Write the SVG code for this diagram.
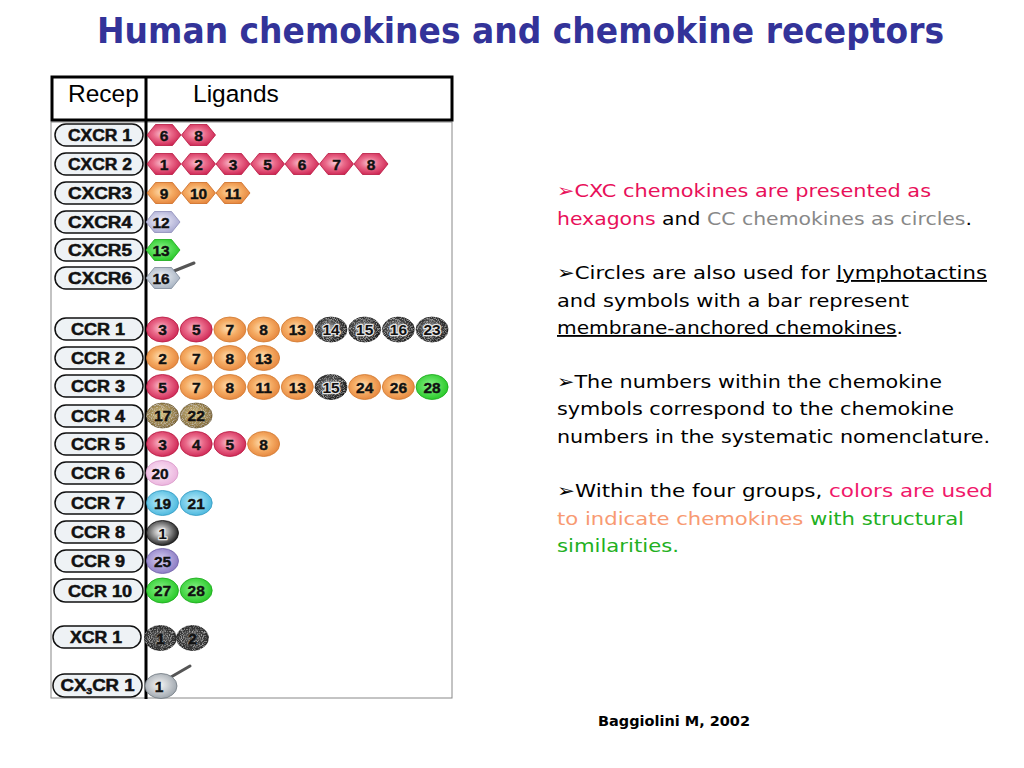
<svg xmlns="http://www.w3.org/2000/svg" xmlns:xlink="http://www.w3.org/1999/xlink" width="1024" height="768" viewBox="0 0 1024 768">
<defs>
<style>
.pill{fill:#eef2f5;stroke:#111;stroke-width:1.5}
.pl{font-family:"Liberation Sans",Arial,sans-serif;font-weight:bold;font-size:16px;text-anchor:middle;fill:#111;stroke:#111;stroke-width:0.5px}
.n{font-family:"Liberation Sans",Arial,sans-serif;font-weight:bold;font-size:15.5px;text-anchor:middle;fill:#111;stroke:#111;stroke-width:0.4px}
.nd{stroke:#e4e4e4;stroke-width:2.5px;paint-order:stroke;stroke-linejoin:round}
.hr{fill:url(#gRed);stroke:#b8163f;stroke-width:0.8}
.ho{fill:url(#gOr);stroke:#cc6a20;stroke-width:0.8}
.hl{fill:url(#gLav);stroke:#8c8cb8;stroke-width:0.8}
.hg{fill:url(#gGr);stroke:#18a818;stroke-width:0.8}
.hb{fill:url(#gBl);stroke:#7c8898;stroke-width:0.8}
.cr{fill:url(#gRed);stroke:#b8163f;stroke-width:0.8}
.co{fill:url(#gOr);stroke:#d07a30;stroke-width:0.8}
.cd{fill:url(#gDk);stroke:#222;stroke-width:0.8}
.cg{fill:url(#gGr);stroke:#18a818;stroke-width:0.8}
.ct{fill:url(#gTan);stroke:#6e5c30;stroke-width:0.8}
.cp{fill:url(#gPk);stroke:#d898c8;stroke-width:0.8}
.cc{fill:url(#gCy);stroke:#3098c0;stroke-width:0.8}
.cu{fill:url(#gPu);stroke:#6e60a8;stroke-width:0.8}
.cw{fill:url(#gWd);stroke:#111;stroke-width:0.8}
.cx{fill:url(#gDx);stroke:#222;stroke-width:0.8}
.cl{fill:url(#gLg);stroke:#707880;stroke-width:0.8}
.bar{stroke:#555;stroke-width:3;stroke-linecap:round}
.body{font-family:"DejaVu Sans","Liberation Sans",sans-serif;font-size:18.5px;fill:#000}
</style>
<path id="hex" d="M-17,0 L-8.5,-10.5 L8.5,-10.5 L17,0 L8.5,10.5 L-8.5,10.5 Z"/>
<ellipse id="cir" cx="0" cy="0" rx="16" ry="12.5"/>
<radialGradient id="gRed" cx="0.45" cy="0.45" r="0.6"><stop offset="0" stop-color="#f9c6d4"/><stop offset="0.45" stop-color="#ea6a8a"/><stop offset="1" stop-color="#cc2150"/></radialGradient>
<radialGradient id="gOr" cx="0.45" cy="0.45" r="0.6"><stop offset="0" stop-color="#fde2b8"/><stop offset="0.5" stop-color="#f5ac64"/><stop offset="1" stop-color="#e4823a"/></radialGradient>
<radialGradient id="gLav" cx="0.45" cy="0.45" r="0.6"><stop offset="0" stop-color="#f4f4fc"/><stop offset="1" stop-color="#a6a6d0"/></radialGradient>
<radialGradient id="gGr" cx="0.45" cy="0.45" r="0.6"><stop offset="0" stop-color="#8cf48c"/><stop offset="1" stop-color="#22c622"/></radialGradient>
<radialGradient id="gBl" cx="0.45" cy="0.45" r="0.6"><stop offset="0" stop-color="#f2f5f8"/><stop offset="1" stop-color="#a4b0c0"/></radialGradient>
<radialGradient id="gDk" cx="0.45" cy="0.45" r="0.6"><stop offset="0" stop-color="#a8a8a8"/><stop offset="0.5" stop-color="#4a4a4a"/><stop offset="1" stop-color="#141414"/></radialGradient>
<radialGradient id="gTan" cx="0.45" cy="0.45" r="0.6"><stop offset="0" stop-color="#d4c080"/><stop offset="1" stop-color="#7c6434"/></radialGradient>
<radialGradient id="gPk" cx="0.45" cy="0.45" r="0.6"><stop offset="0" stop-color="#fcecf8"/><stop offset="1" stop-color="#eab0dc"/></radialGradient>
<radialGradient id="gCy" cx="0.45" cy="0.45" r="0.6"><stop offset="0" stop-color="#c0f0fc"/><stop offset="1" stop-color="#44b4dc"/></radialGradient>
<radialGradient id="gPu" cx="0.45" cy="0.45" r="0.6"><stop offset="0" stop-color="#d8d0f4"/><stop offset="1" stop-color="#8676c0"/></radialGradient>
<radialGradient id="gWd" cx="0.45" cy="0.45" r="0.6"><stop offset="0" stop-color="#ffffff"/><stop offset="0.35" stop-color="#b0b0b0"/><stop offset="1" stop-color="#101010"/></radialGradient>
<radialGradient id="gDx" cx="0.5" cy="0.5" r="0.6"><stop offset="0" stop-color="#5a5a5a"/><stop offset="1" stop-color="#222222"/></radialGradient>
<radialGradient id="gLg" cx="0.45" cy="0.45" r="0.6"><stop offset="0" stop-color="#f6f6f6"/><stop offset="1" stop-color="#9aa2aa"/></radialGradient>
<filter id="speck" x="-0.1" y="-0.1" width="1.2" height="1.2">
<feTurbulence type="fractalNoise" baseFrequency="1.1" numOctaves="1" seed="4" result="nz"/>
<feColorMatrix in="nz" type="matrix" values="0 0 0 0 1  0 0 0 0 1  0 0 0 0 1  1.3 0 0 0 -0.62" result="w"/>
<feComposite in="w" in2="SourceGraphic" operator="in" result="ws"/>
<feMerge><feMergeNode in="SourceGraphic"/><feMergeNode in="ws"/></feMerge>
</filter>
</defs>
<rect width="1024" height="768" fill="#fff"/>

<g id="title">
<text x="97" y="43" textLength="847" lengthAdjust="spacingAndGlyphs" font-family="'DejaVu Sans','Liberation Sans',sans-serif" font-weight="bold" font-size="36" fill="#333399">Human chemokines and chemokine receptors</text>
</g>

<g id="table">
<rect x="51" y="122" width="401" height="576" fill="none" stroke="#888" stroke-width="1"/>
<rect x="52" y="77" width="400" height="43" fill="none" stroke="#000" stroke-width="3"/>
<line x1="146" y1="77" x2="146" y2="699" stroke="#000" stroke-width="3"/>
<text x="68" y="102" font-family="'Liberation Sans',Arial,sans-serif" font-size="24.5" fill="#000">Recep</text>
<text x="193" y="102" font-family="'Liberation Sans',Arial,sans-serif" font-size="24.5" fill="#000">Ligands</text>
</g>

<g id="receptors">
<g id="r-cxcr1"><rect class="pill" x="55" y="124" width="88" height="22" rx="11"/><text class="pl" x="100" y="141" textLength="64" lengthAdjust="spacingAndGlyphs">CXCR 1</text></g>
<g id="r-cxcr2"><rect class="pill" x="55" y="153" width="88" height="22" rx="11"/><text class="pl" x="100" y="170" textLength="64" lengthAdjust="spacingAndGlyphs">CXCR 2</text></g>
<g id="r-cxcr3"><rect class="pill" x="55" y="182" width="88" height="22" rx="11"/><text class="pl" x="100" y="199" textLength="64" lengthAdjust="spacingAndGlyphs">CXCR3</text></g>
<g id="r-cxcr4"><rect class="pill" x="55" y="211" width="88" height="22" rx="11"/><text class="pl" x="100" y="228" textLength="64" lengthAdjust="spacingAndGlyphs">CXCR4</text></g>
<g id="r-cxcr5"><rect class="pill" x="55" y="239" width="88" height="22" rx="11"/><text class="pl" x="100" y="256" textLength="64" lengthAdjust="spacingAndGlyphs">CXCR5</text></g>
<g id="r-cxcr6"><rect class="pill" x="55" y="267" width="88" height="22" rx="11"/><text class="pl" x="100" y="284" textLength="64" lengthAdjust="spacingAndGlyphs">CXCR6</text></g>
<g id="r-ccr1"><rect class="pill" x="55" y="318" width="88" height="22" rx="11"/><text class="pl" x="98" y="335" textLength="54" lengthAdjust="spacingAndGlyphs">CCR 1</text></g>
<g id="r-ccr2"><rect class="pill" x="55" y="347" width="88" height="22" rx="11"/><text class="pl" x="98" y="364" textLength="54" lengthAdjust="spacingAndGlyphs">CCR 2</text></g>
<g id="r-ccr3"><rect class="pill" x="55" y="375" width="88" height="22" rx="11"/><text class="pl" x="98" y="392" textLength="54" lengthAdjust="spacingAndGlyphs">CCR 3</text></g>
<g id="r-ccr4"><rect class="pill" x="55" y="405" width="88" height="22" rx="11"/><text class="pl" x="98" y="422" textLength="54" lengthAdjust="spacingAndGlyphs">CCR 4</text></g>
<g id="r-ccr5"><rect class="pill" x="55" y="433" width="88" height="22" rx="11"/><text class="pl" x="98" y="450" textLength="54" lengthAdjust="spacingAndGlyphs">CCR 5</text></g>
<g id="r-ccr6"><rect class="pill" x="55" y="462" width="88" height="22" rx="11"/><text class="pl" x="98" y="479" textLength="54" lengthAdjust="spacingAndGlyphs">CCR 6</text></g>
<g id="r-ccr7"><rect class="pill" x="55" y="492" width="88" height="22" rx="11"/><text class="pl" x="98" y="509" textLength="54" lengthAdjust="spacingAndGlyphs">CCR 7</text></g>
<g id="r-ccr8"><rect class="pill" x="55" y="521" width="88" height="22" rx="11"/><text class="pl" x="98" y="538" textLength="54" lengthAdjust="spacingAndGlyphs">CCR 8</text></g>
<g id="r-ccr9"><rect class="pill" x="55" y="550" width="88" height="22" rx="11"/><text class="pl" x="98" y="567" textLength="54" lengthAdjust="spacingAndGlyphs">CCR 9</text></g>
<g id="r-ccr10"><rect class="pill" x="54" y="579" width="89" height="23" rx="11.5"/><text class="pl" x="100" y="596.5" textLength="64" lengthAdjust="spacingAndGlyphs">CCR 10</text></g>
<g id="r-xcr1"><rect class="pill" x="53" y="626" width="88" height="22" rx="11"/><text class="pl" x="96" y="643" textLength="52" lengthAdjust="spacingAndGlyphs">XCR 1</text></g>
<g id="r-cx3cr1"><rect class="pill" x="53" y="674" width="89" height="23" rx="11.5"/><text class="pl" x="97.5" y="691" textLength="74" lengthAdjust="spacingAndGlyphs">CX<tspan font-size="9" dy="3">3</tspan><tspan dy="-3">CR 1</tspan></text></g>
</g>

<g id="connectors"></g>

<g id="ligands">
<g id="l-cxcr1-6"><use href="#hex" x="164" y="135" class="hr"/><text class="n" x="164" y="140.5">6</text></g>
<g id="l-cxcr1-8"><use href="#hex" x="198.5" y="135" class="hr"/><text class="n" x="198.5" y="140.5">8</text></g>
<g id="l-cxcr2-1"><use href="#hex" x="164" y="164" class="hr"/><text class="n" x="164" y="169.5">1</text></g>
<g id="l-cxcr2-2"><use href="#hex" x="198.5" y="164" class="hr"/><text class="n" x="198.5" y="169.5">2</text></g>
<g id="l-cxcr2-3"><use href="#hex" x="233" y="164" class="hr"/><text class="n" x="233" y="169.5">3</text></g>
<g id="l-cxcr2-5"><use href="#hex" x="267.5" y="164" class="hr"/><text class="n" x="267.5" y="169.5">5</text></g>
<g id="l-cxcr2-6"><use href="#hex" x="302" y="164" class="hr"/><text class="n" x="302" y="169.5">6</text></g>
<g id="l-cxcr2-7"><use href="#hex" x="336.5" y="164" class="hr"/><text class="n" x="336.5" y="169.5">7</text></g>
<g id="l-cxcr2-8"><use href="#hex" x="371" y="164" class="hr"/><text class="n" x="371" y="169.5">8</text></g>
<g id="l-cxcr3-9"><use href="#hex" x="164" y="193" class="ho"/><text class="n" x="164" y="198.5">9</text></g>
<g id="l-cxcr3-10"><use href="#hex" x="198.5" y="193" class="ho"/><text class="n" x="198.5" y="198.5">10</text></g>
<g id="l-cxcr3-11"><use href="#hex" x="233" y="193" class="ho"/><text class="n" x="233" y="198.5">11</text></g>
<g id="l-cxcr4-12"><use href="#hex" x="163" y="222" class="hl"/><text class="n" x="161" y="227.5">12</text></g>
<g id="l-cxcr5-13"><use href="#hex" x="163" y="250" class="hg"/><text class="n" x="161" y="255.5">13</text></g>
<g id="l-cxcr6-16"><line class="bar" x1="174" y1="271" x2="194" y2="263"/><use href="#hex" x="163" y="278" class="hb"/><text class="n" x="161" y="283.5">16</text></g>

<g id="l-ccr1-3"><use href="#cir" x="162.5" y="329.5" class="cr"/><text class="n" x="162.5" y="335">3</text></g>
<g id="l-ccr1-5"><use href="#cir" x="196.2" y="329.5" class="cr"/><text class="n" x="196.2" y="335">5</text></g>
<g id="l-ccr1-7"><use href="#cir" x="229.9" y="329.5" class="co"/><text class="n" x="229.9" y="335">7</text></g>
<g id="l-ccr1-8"><use href="#cir" x="263.6" y="329.5" class="co"/><text class="n" x="263.6" y="335">8</text></g>
<g id="l-ccr1-13"><use href="#cir" x="297.3" y="329.5" class="co"/><text class="n" x="297.3" y="335">13</text></g>
<g id="l-ccr1-14"><use href="#cir" x="331" y="329.5" class="cd" filter="url(#speck)"/><text class="n nd" x="331" y="335">14</text></g>
<g id="l-ccr1-15"><use href="#cir" x="364.7" y="329.5" class="cd" filter="url(#speck)"/><text class="n nd" x="364.7" y="335">15</text></g>
<g id="l-ccr1-16"><use href="#cir" x="398.4" y="329.5" class="cd" filter="url(#speck)"/><text class="n nd" x="398.4" y="335">16</text></g>
<g id="l-ccr1-23"><use href="#cir" x="432.1" y="329.5" class="cd" filter="url(#speck)"/><text class="n nd" x="432.1" y="335">23</text></g>
<g id="l-ccr2-2"><use href="#cir" x="162.5" y="358" class="co"/><text class="n" x="162.5" y="363.5">2</text></g>
<g id="l-ccr2-7"><use href="#cir" x="196.2" y="358" class="co"/><text class="n" x="196.2" y="363.5">7</text></g>
<g id="l-ccr2-8"><use href="#cir" x="229.9" y="358" class="co"/><text class="n" x="229.9" y="363.5">8</text></g>
<g id="l-ccr2-13"><use href="#cir" x="263.6" y="358" class="co"/><text class="n" x="263.6" y="363.5">13</text></g>
<g id="l-ccr3-5"><use href="#cir" x="162.5" y="387" class="cr"/><text class="n" x="162.5" y="392.5">5</text></g>
<g id="l-ccr3-7"><use href="#cir" x="196.2" y="387" class="co"/><text class="n" x="196.2" y="392.5">7</text></g>
<g id="l-ccr3-8"><use href="#cir" x="229.9" y="387" class="co"/><text class="n" x="229.9" y="392.5">8</text></g>
<g id="l-ccr3-11"><use href="#cir" x="263.6" y="387" class="co"/><text class="n" x="263.6" y="392.5">11</text></g>
<g id="l-ccr3-13"><use href="#cir" x="297.3" y="387" class="co"/><text class="n" x="297.3" y="392.5">13</text></g>
<g id="l-ccr3-15"><use href="#cir" x="331" y="387" class="cd" filter="url(#speck)"/><text class="n nd" x="331" y="392.5">15</text></g>
<g id="l-ccr3-24"><use href="#cir" x="364.7" y="387" class="co"/><text class="n" x="364.7" y="392.5">24</text></g>
<g id="l-ccr3-26"><use href="#cir" x="398.4" y="387" class="co"/><text class="n" x="398.4" y="392.5">26</text></g>
<g id="l-ccr3-28"><use href="#cir" x="432.1" y="387" class="cg"/><text class="n" x="432.1" y="392.5">28</text></g>
<g id="l-ccr4-17"><use href="#cir" x="162.5" y="415.5" class="ct" filter="url(#speck)"/><text class="n" x="162.5" y="421">17</text></g>
<g id="l-ccr4-22"><use href="#cir" x="196.2" y="415.5" class="ct" filter="url(#speck)"/><text class="n" x="196.2" y="421">22</text></g>
<g id="l-ccr5-3"><use href="#cir" x="162.5" y="444" class="cr"/><text class="n" x="162.5" y="449.5">3</text></g>
<g id="l-ccr5-4"><use href="#cir" x="196.2" y="444" class="cr"/><text class="n" x="196.2" y="449.5">4</text></g>
<g id="l-ccr5-5"><use href="#cir" x="229.9" y="444" class="cr"/><text class="n" x="229.9" y="449.5">5</text></g>
<g id="l-ccr5-8"><use href="#cir" x="263.6" y="444" class="co"/><text class="n" x="263.6" y="449.5">8</text></g>
<g id="l-ccr6-20"><use href="#cir" x="162" y="473" class="cp"/><text class="n" x="160" y="478.5">20</text></g>
<g id="l-ccr7-19"><use href="#cir" x="162.5" y="503" class="cc"/><text class="n" x="162.5" y="508.5">19</text></g>
<g id="l-ccr7-21"><use href="#cir" x="196.2" y="503" class="cc"/><text class="n" x="196.2" y="508.5">21</text></g>
<g id="l-ccr8-1"><use href="#cir" x="162.5" y="533" class="cw"/><text class="n nd" x="162.5" y="538.5">1</text></g>
<g id="l-ccr9-25"><use href="#cir" x="162.5" y="561" class="cu"/><text class="n" x="162.5" y="566.5">25</text></g>
<g id="l-ccr10-27"><use href="#cir" x="162.5" y="590.5" class="cg"/><text class="n" x="162.5" y="596">27</text></g>
<g id="l-ccr10-28"><use href="#cir" x="196.2" y="590.5" class="cg"/><text class="n" x="196.2" y="596">28</text></g>
<g id="l-xcr1-1"><use href="#cir" x="160.5" y="638" class="cx" filter="url(#speck)"/><text class="n" x="160.5" y="643.5">1</text></g>
<g id="l-xcr1-2"><use href="#cir" x="192.5" y="638" class="cx" filter="url(#speck)"/><text class="n" x="192.5" y="643.5">2</text></g>
<g id="l-cx3cr1-1"><line class="bar" x1="171" y1="677" x2="190" y2="666"/><use href="#cir" x="161" y="686" class="cl"/><text class="n" x="159" y="691.5">1</text></g>
</g>

<g id="notes" class="body">
<text x="557" y="197" textLength="374" lengthAdjust="spacingAndGlyphs"><tspan fill="#e8105a">➢CXC chemokines are presented as</tspan></text>
<text x="557" y="225" textLength="415" lengthAdjust="spacingAndGlyphs"><tspan fill="#e8105a">hexagons</tspan> and <tspan fill="#888888">CC chemokines as circles</tspan>.</text>
<text x="557" y="279" textLength="430" lengthAdjust="spacingAndGlyphs">➢Circles are also used for <tspan text-decoration="underline">lymphotactins</tspan></text>
<text x="557" y="307" textLength="352" lengthAdjust="spacingAndGlyphs">and symbols with a bar represent</text>
<text x="557" y="334" textLength="346" lengthAdjust="spacingAndGlyphs"><tspan text-decoration="underline">membrane-anchored chemokines</tspan>.</text>
<text x="557" y="388" textLength="385" lengthAdjust="spacingAndGlyphs">➢The numbers within the chemokine</text>
<text x="557" y="415" textLength="397" lengthAdjust="spacingAndGlyphs">symbols correspond to the chemokine</text>
<text x="557" y="443" textLength="433" lengthAdjust="spacingAndGlyphs">numbers in the systematic nomenclature.</text>
<text x="557" y="497" textLength="436" lengthAdjust="spacingAndGlyphs">➢Within the four groups, <tspan fill="#f0186a">colors are used</tspan></text>
<text x="557" y="525" textLength="407" lengthAdjust="spacingAndGlyphs"><tspan fill="#f89a72">to indicate chemokines</tspan> <tspan fill="#22b022">with structural</tspan></text>
<text x="557" y="552" textLength="122" lengthAdjust="spacingAndGlyphs"><tspan fill="#22b022">similarities.</tspan></text>
</g>

<g id="citation">
<text x="598" y="726" textLength="152" lengthAdjust="spacingAndGlyphs" font-family="'DejaVu Sans','Liberation Sans',sans-serif" font-weight="bold" font-size="14.5" fill="#000">Baggiolini M, 2002</text>
</g>
</svg>
